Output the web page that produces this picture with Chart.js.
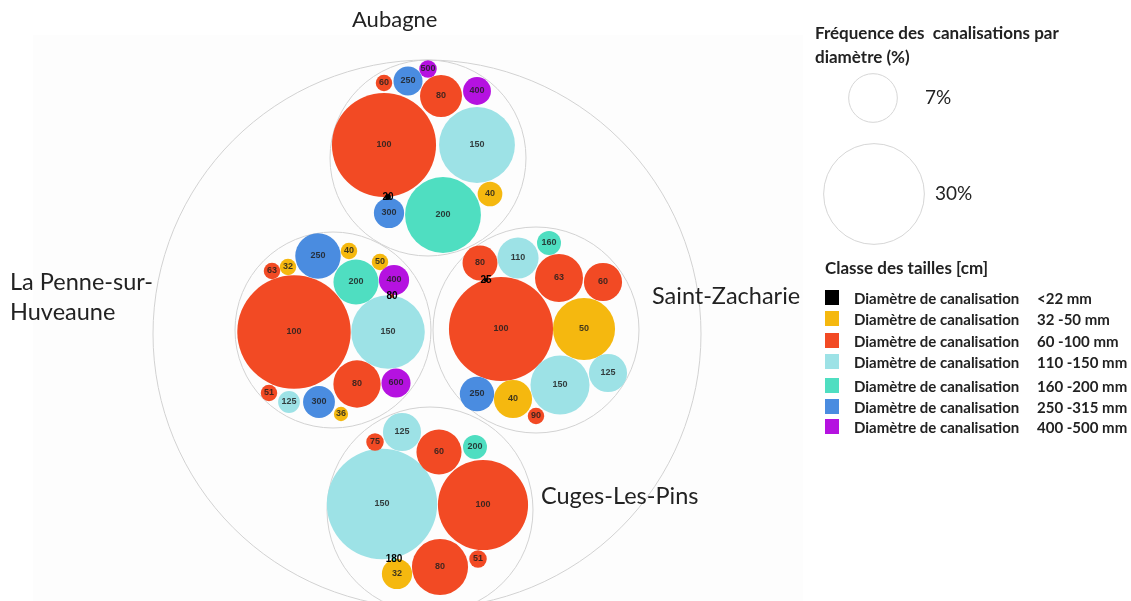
<!DOCTYPE html>
<html lang="fr">
<head>
<meta charset="utf-8">
<script src="https://cdn.jsdelivr.net/npm/chart.js@4.4.1/dist/chart.umd.min.js"></script>
<style>
  body { margin: 0; background: #fff; }
  #wrap { position: relative; width: 1131px; height: 601px; overflow: hidden; font-family: Lato, "Open Sans", sans-serif; color: #222; }
  #fond { position: absolute; left: 33px; top: 35px; width: 770px; height: 566px; background: #fdfdfd; }
  canvas { position: absolute; left: 0; top: 0; }
  .lbl { position: absolute; white-space: nowrap; font-size: 23.5px; line-height: 1; }
  .titre { position: absolute; white-space: nowrap; font-weight: bold; font-size: 17px; line-height: 20px; }
  .item { position: absolute; left: 825px; white-space: nowrap; font-weight: bold; font-size: 15px; line-height: 18px; }
  .item span.sq { position: absolute; left: 0; top: 1px; width: 14px; height: 15px; }
  .item span.tx { position: absolute; left: 29px; top: 0; }
  .item span.rg { position: absolute; left: 212px; top: 0; }
</style>
</head>
<body>
<div id="wrap">
  <div id="fond"></div>
  <canvas id="graphe" width="1131" height="601"></canvas>
</div>
<script>
// Fréquence des canalisations par diamètre (%), par commune
const aubagneDiam = ['100', '150', '200', '80', '400', '250', '60', '500', '40', '300', '20'];
const aubagneFreq = [32, 17, 17, 5.2, 2.3, 2.5, 0.8, 0.9, 1.8, 2.7, 0.1];

const penneDiam = ['100', '150', '250', '200', '40', '50', '400', '80', '63', '32', '80', '600', '51', '125', '300', '36'];
const penneFreq = [38, 16, 6.1, 6.0, 0.8, 0.8, 2.7, 0.05, 0.8, 0.8, 6.6, 2.5, 0.8, 1.4, 3.0, 0.6];

const zachDiam = ['100', '50', '150', '125', '250', '40', '90', '80', '110', '160', '63', '60', '25'];
const zachFreq = [32, 11.4, 10.3, 4.3, 3.5, 4.3, 0.8, 3.6, 5.0, 1.7, 6.8, 4.3, 0.05];

const cugesDiam = ['150', '100', '80', '60', '125', '75', '200', '51', '32', '180'];
const cugesFreq = [36, 24, 9.3, 6.0, 4.3, 0.9, 1.7, 0.9, 2.7, 0.05];

const communes = ['Aubagne', 'La Penne-sur-Huveaune', 'Saint-Zacharie', 'Cuges-Les-Pins'];
const legendeFreq = [7, 30];

const classes = ['<22 mm', '32 -50 mm', '60 -100 mm', '110 -150 mm', '160 -200 mm', '250 -315 mm', '400 -500 mm'];
const classeMax = [30, 50, 100, 150, 200, 315, 1000];
const couleurs = ['#000000', '#f5b80f', '#f24a24', '#9de2e6', '#4fdec1', '#4a8ce0', '#b512e0'];

// Disposition (empaquetage) : centre de chaque commune et décalages des bulles
const centres = [[428, 158], [333, 330], [536, 330], [430, 510]];
const enveloppes = [98, 98, 103, 103];
const grandCentre = [427, 334], grandRayon = 274;
const decalages = [
  [[-44, -13], [49, -13], [15, 57], [13, -62], [49, -67], [-20, -77], [-44, -75], [0, -89], [62, 36], [-39, 55], [-40, 39]],
  [[-39, 2], [55, 2], [-15, -74], [23, -48], [16, -79], [47, -68], [61, -50], [59, -34], [-61, -59], [-45, -63], [24, 54], [63, 53], [-64, 63], [-44, 72], [-14, 72], [8, 84]],
  [[-35, -1], [48, -1], [24, 55], [72, 43], [-59, 64], [-23, 69], [0, 86], [-56, -67], [-18, -72], [13, -87], [23, -52], [67, -48], [-50, -50]],
  [[-48, -6], [53, -5], [10, 57], [9, -58], [-28, -78], [-55, -68], [45, -63], [48, 49], [-33, 64], [-36, 49]]
];
const posLegende = [[873, 98], [874, 194]];
const K = 9.2; // rayon = K * sqrt(fréquence)

function couleur(d) {
  const v = parseFloat(d);
  for (let i = 0; i < classeMax.length; i++) if (v <= classeMax[i]) return couleurs[i];
  return couleurs[couleurs.length - 1];
}

const series = [
  [aubagneDiam, aubagneFreq],
  [penneDiam, penneFreq],
  [zachDiam, zachFreq],
  [cugesDiam, cugesFreq]
];

const datasets = series.map(([diam, freq], c) => ({
  label: communes[c],
  data: freq.map((f, i) => ({
    x: centres[c][0] + decalages[c][i][0],
    y: centres[c][1] + decalages[c][i][1],
    r: K * Math.sqrt(f),
    d: diam[i]
  })),
  backgroundColor: diam.map(couleur),
  borderWidth: 0,
  order: 1
}));

datasets.push({
  label: 'enveloppes',
  data: centres.map((c, i) => ({ x: c[0], y: c[1], r: enveloppes[i] }))
    .concat([{ x: grandCentre[0], y: grandCentre[1], r: grandRayon }]),
  backgroundColor: 'rgba(0,0,0,0)',
  borderColor: '#d2d2d2',
  borderWidth: 1,
  order: 5
});

datasets.push({
  label: 'legende',
  data: legendeFreq.map((f, i) => ({ x: posLegende[i][0], y: posLegende[i][1], r: K * Math.sqrt(f) })),
  backgroundColor: '#ffffff',
  borderColor: '#d6d6d6',
  borderWidth: 1,
  order: 5
});

const etiquettes = {
  id: 'etiquettes',
  afterDatasetsDraw(chart) {
    const ctx = chart.ctx;
    ctx.save();
    ctx.textAlign = 'center';
    ctx.textBaseline = 'middle';
    for (let c = 0; c < series.length; c++) {
      const meta = chart.getDatasetMeta(c);
      meta.data.forEach((el, i) => {
        const d = series[c][0][i];
        const petit = series[c][1][i] < 0.2;
        ctx.font = (petit ? 'bold 10px' : 'bold 9px') + ' "Liberation Sans", Arial, sans-serif';
        ctx.fillStyle = petit ? '#000' : 'rgba(30,30,30,0.85)';
        ctx.fillText(d, el.x, el.y);
      });
    }
    ctx.restore();
  }
};

new Chart(document.getElementById('graphe').getContext('2d'), {
  type: 'bubble',
  data: { datasets: datasets },
  options: {
    responsive: false,
    animation: false,
    events: [],
    layout: { padding: 0, autoPadding: false },
    plugins: { legend: { display: false }, tooltip: { enabled: false } },
    scales: {
      x: { type: 'linear', min: 0, max: 1131, display: false },
      y: { type: 'linear', min: 0, max: 601, reverse: true, display: false }
    }
  },
  plugins: [etiquettes]
});

// Textes
const wrap = document.getElementById('wrap');
function texte(cls, html, x, y) {
  const el = document.createElement('div');
  el.className = cls;
  el.innerHTML = html;
  el.style.left = x + 'px';
  el.style.top = y + 'px';
  wrap.appendChild(el);
  return el;
}
texte('lbl', communes[0], 352, 8).style.fontSize = '22px';
texte('lbl', 'La Penne-sur-', 10, 270);
texte('lbl', 'Huveaune', 10, 300);
texte('lbl', communes[2], 652, 284);
texte('lbl', communes[3], 541, 484);
texte('titre', 'Fréquence des &nbsp;canalisations par', 815, 23);
texte('titre', 'diamètre (%)', 815, 47);
texte('lbl', legendeFreq[0] + '%', 925, 87).style.fontSize = '19px';
texte('lbl', legendeFreq[1] + '%', 935, 183).style.fontSize = '19px';
texte('titre', 'Classe des tailles [cm]', 825, 258);
const rangs = [289, 310, 332, 353, 377, 398, 418];
classes.forEach((cl, i) => {
  const el = texte('item', '', 825, rangs[i]);
  el.innerHTML = '<span class="sq" style="background:' + couleurs[i] + '"></span>' +
    '<span class="tx">Diamètre de canalisation</span><span class="rg">' + cl + '</span>';
});
</script>
</body>
</html>
